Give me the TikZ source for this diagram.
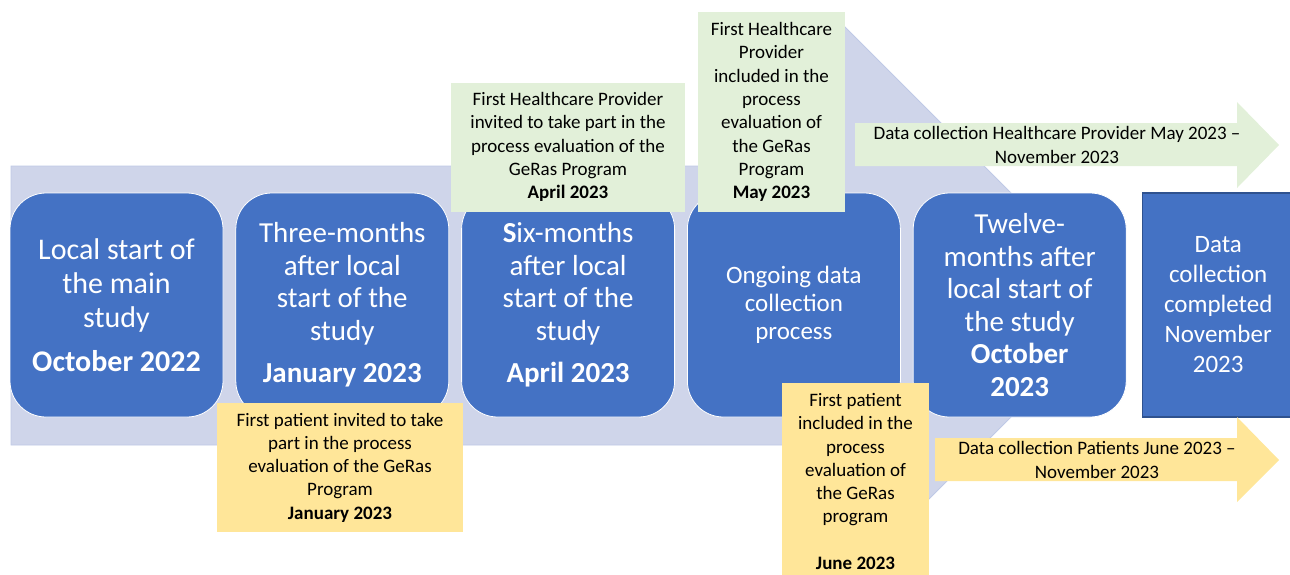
\documentclass[tikz,border=0pt]{standalone}
\usepackage{fontspec}
\setmainfont{Carlito}
\usepackage{xcolor}
\usetikzlibrary{positioning}

\definecolor{lavender}{HTML}{CFD5EA}
\definecolor{lavenderline}{HTML}{BFC9E6}
\definecolor{officeblue}{HTML}{4472C4}
\definecolor{navyline}{HTML}{2F528F}
\definecolor{paleGreen}{HTML}{E2F0D9}
\definecolor{paleGold}{HTML}{FFE699}

\begin{document}
\begin{tikzpicture}[
  x=1pt, y=-1pt,
  node distance=12pt,
  phase/.style={rectangle, rounded corners=36pt, draw=white, line width=0.8pt, fill=officeblue, text=white, align=center, minimum width=213pt, minimum height=224pt, inner sep=4pt, font=\fontsize{29}{32.5}\selectfont},
  hpnote/.style={rectangle, fill=paleGreen, align=center, text=black, inner sep=0pt, font=\fontsize{19}{23.3}\selectfont},
  ptnote/.style={rectangle, fill=paleGold, align=center, text=black, inner sep=0pt, font=\fontsize{19}{23.3}\selectfont}
]
\useasboundingbox (0,0) rectangle (1290,574);
\clip (0,0) rectangle (1290,574);

% big timeline arrow behind everything
\fill[lavender, draw=lavenderline, line width=0.8pt] (11,166) -- (835,166) -- (835,17) -- (1123,305) -- (835,593) -- (835,445) -- (11,445) -- cycle;

\node[phase, font=\fontsize{30}{34}\selectfont] (p1) at (116.5,305) {Local start of\\the main\\study\\[10pt]\textbf{October 2022}};
\node[phase, right=of p1] (p2) {Three-months\\after local\\start of the\\study\\[10pt]\textbf{January 2023}};
\node[phase, right=of p2] (p3) {\textbf{S}ix-months\\after local\\start of the\\study\\[10pt]\textbf{April 2023}};
\node[phase, right=of p3, font=\fontsize{25}{28}\selectfont] (p4) {Ongoing data\\collection\\process};
\node[phase, right=of p4] (p5) {Twelve-\\months after\\local start of\\the study\\ \textbf{October}\\ \textbf{2023}};
\node[phase, right=15pt of p5, rounded corners=0pt, draw=navyline, line width=1.2pt, minimum width=152pt, font=\fontsize{25}{30}\selectfont] (p6) {Data\\collection\\completed\\November\\2023};

\fill[paleGreen] (855,123) -- (1237,123) -- (1237,102) -- (1279,145) -- (1237,188) -- (1237,166) -- (855,166) -- cycle;
\node[font=\fontsize{19}{23.3}\selectfont, align=center] (hpdata) at (1057,145) {Data collection Healthcare Provider May 2023 --\\November 2023};
\fill[paleGold] (935,438) -- (1237,438) -- (1237,417) -- (1279,460) -- (1237,502) -- (1237,481) -- (935,481) -- cycle;
\node[font=\fontsize{19}{23.3}\selectfont, align=center] (ptdata) at (1097,460) {Data collection Patients June 2023 --\\November 2023};

\node[hpnote, minimum width=234pt, minimum height=129pt] (hp1) at (568,147) {First Healthcare Provider\\invited to take part in the\\process evaluation of the\\GeRas Program\\\textbf{April 2023}};
\node[hpnote, minimum width=147pt, minimum height=200pt] (hp2) at (771.5,112) {First Healthcare\\Provider\\included in the\\process\\evaluation of\\the GeRas\\Program\\\textbf{May 2023}};
\node[ptnote, minimum width=246pt, minimum height=129pt] (pt1) at (340,467.5) {First patient invited to take\\part in the process\\evaluation of the GeRas\\Program\\\textbf{January 2023}};
\node[ptnote, minimum width=147pt, minimum height=197pt] (pt2) at (855.5,481.5) {First patient\\included in the\\process\\evaluation of\\the GeRas\\program\\[23.3pt]\textbf{June 2023}};
\end{tikzpicture}
\end{document}
